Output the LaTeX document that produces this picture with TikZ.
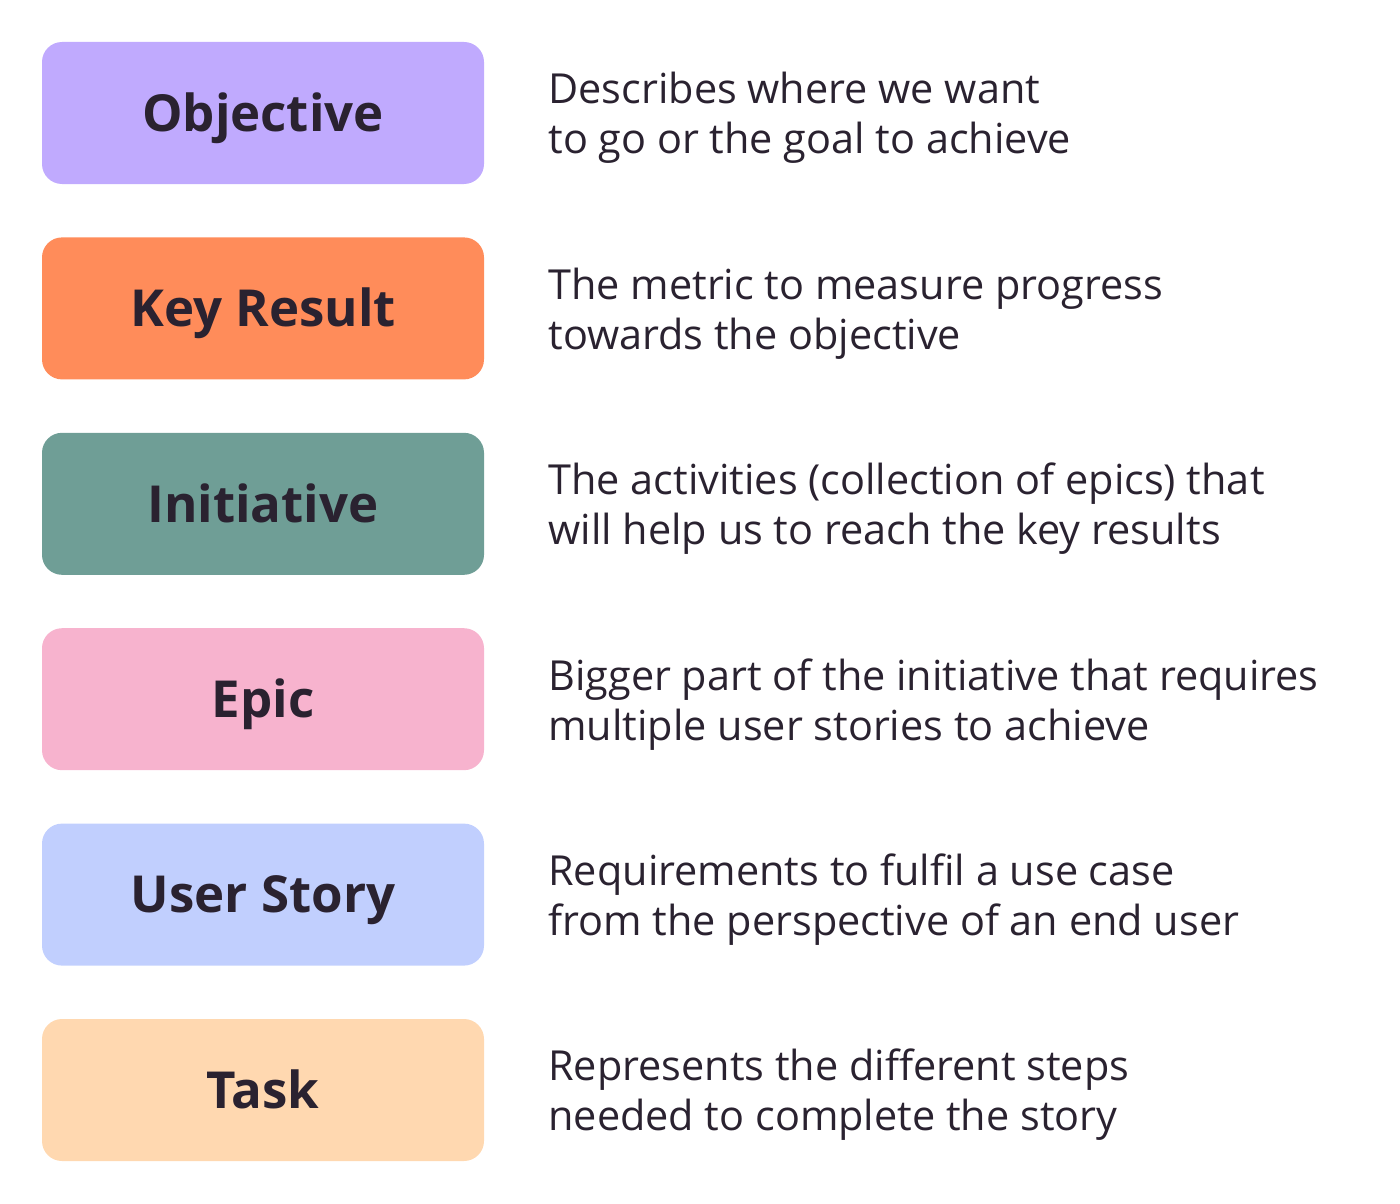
\documentclass[tikz,border=0pt]{standalone}
\usepackage{fontspec}
\setmainfont{Open Sans}
\usepackage{xcolor}
\usetikzlibrary{positioning}
\definecolor{okrink}{HTML}{2A2230}
\definecolor{okrpurple}{HTML}{C0AAFE}
\definecolor{okrorange}{HTML}{FF8C5A}
\definecolor{okrteal}{HTML}{6F9E96}
\definecolor{okrpink}{HTML}{F7B3CE}
\definecolor{okrblue}{HTML}{C1CFFE}
\definecolor{okrpeach}{HTML}{FFD8B0}

\begin{document}
\begin{tikzpicture}[
    x=1pt, y=1pt,
    node distance=53pt,
    level/.style={rounded corners=20pt, minimum width=442pt, minimum height=142pt, inner sep=0pt,
        text height=36.4pt, text depth=0pt,
        font=\fontsize{51}{58}\selectfont\bfseries, text=okrink},
    desc/.style={right=64pt of #1, anchor=west, align=left, inner sep=0pt, yshift=-5pt,
        font=\fontsize{41.4}{50}\selectfont, text=okrink},
]
\useasboundingbox (0,0) rectangle (1400,-1204);

% Levels
\node[level, fill=okrpurple] (obj) at (263,-113) {Objective};
\node[level, fill=okrorange, below=of obj] (kr) {Key Result};
\node[level, fill=okrteal, below=of kr] (ini) {Initiative};
\node[level, fill=okrpink, below=of ini] (epic) {Epic};
\node[level, fill=okrblue, below=of epic] (story) {User Story};
\node[level, fill=okrpeach, below=of story] (task) {Task};

% Descriptions
\node[desc=obj] (objtxt) {Describes where we want\\to go or the goal to achieve};
\node[desc=kr] (krtxt) {The metric to measure progress\\towards the objective};
\node[desc=ini] (initxt) {The activities (collection of epics) that\\will help us to reach the key results};
\node[desc=epic] (epictxt) {Bigger part of the initiative that requires\\multiple user stories to achieve};
\node[desc=story] (storytxt) {Requirements to fulfil a use case\\from the perspective of an end user};
\node[desc=task] (tasktxt) {Represents the different steps\\needed to complete the story};

\end{tikzpicture}
\end{document}
